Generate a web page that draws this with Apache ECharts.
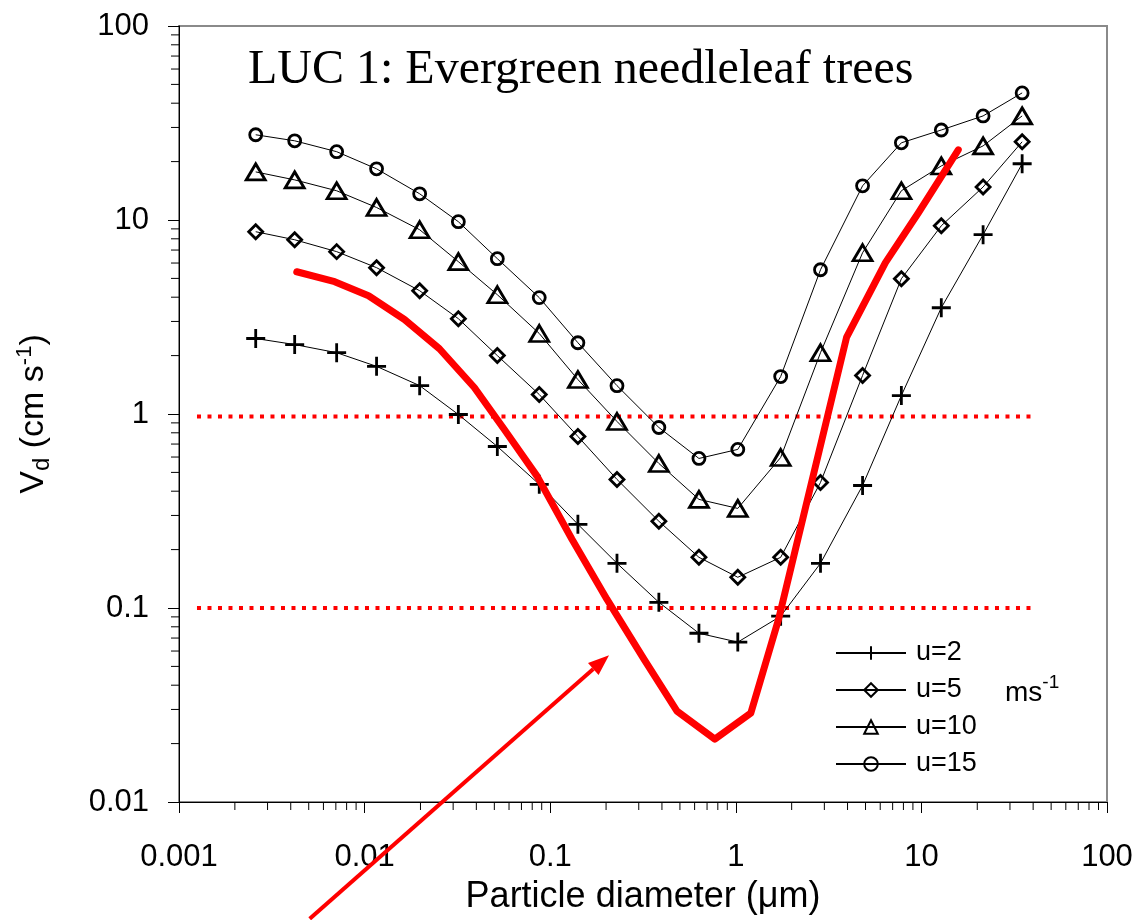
<!DOCTYPE html>
<html>
<head>
<meta charset="utf-8">
<script src="https://cdn.jsdelivr.net/npm/echarts@6/dist/echarts.min.js"></script>
<style>
  html, body { margin: 0; padding: 0; background: #fff; }
  #chart { width: 1142px; height: 920px; }
</style>
</head>
<body>
<div id="chart"></div>
<script>
// Particle diameters (µm) shared by the four wind-speed curves
const diameters = [0.00259, 0.0042, 0.00707, 0.0116, 0.0198, 0.032, 0.0519, 0.0873, 0.141, 0.229,
                   0.385, 0.633, 1.025, 1.745, 2.86, 4.82, 7.8, 12.8, 21.5, 34.9];

// Deposition velocity Vd (cm/s) for each friction wind speed
const vdU2  = [2.45, 2.28, 2.07, 1.76, 1.40, 0.994, 0.680, 0.434, 0.270, 0.170,
               0.107, 0.0741, 0.0667, 0.0907, 0.170, 0.428, 1.245, 3.53, 8.40, 19.5];
const vdU5  = [8.70, 7.91, 6.87, 5.68, 4.32, 3.10, 2.00, 1.26, 0.766, 0.460,
               0.280, 0.1825, 0.144, 0.1825, 0.444, 1.58, 4.98, 9.34, 14.8, 25.3];
const vdU10 = [17.7, 16.1, 14.15, 11.6, 8.91, 6.10, 4.12, 2.60, 1.505, 0.915,
               0.556, 0.363, 0.326, 0.597, 2.07, 6.78, 14.15, 19.0, 24.1, 34.4];
const vdU15 = [27.5, 25.6, 22.5, 18.35, 13.65, 9.80, 6.32, 3.98, 2.33, 1.40,
               0.852, 0.590, 0.657, 1.56, 5.54, 15.0, 25.0, 29.1, 34.4, 45.2];

// Thick red reference curve
const refDiam = [0.00431, 0.0069, 0.0105, 0.0164, 0.0253, 0.039, 0.0566, 0.0851, 0.131, 0.202,
                 0.320, 0.482, 0.771, 1.204, 1.70, 3.95, 6.40, 9.64, 15.8];
const refVd   = [5.41, 4.81, 4.07, 3.07, 2.17, 1.37, 0.832, 0.477, 0.226, 0.111,
                 0.0545, 0.0294, 0.0211, 0.0287, 0.0875, 2.48, 6.03, 10.9, 23.0];

// Dotted guide levels and their horizontal span
const guideLevels = [0.97, 0.1];
const guideSpan = [0.00125, 40];

// Arrow annotation: tail and head in data units
const arrowTail = [0.00506, 0.0025];
const arrowHead = [0.2075, 0.0571];

// Axis ranges and tick labels
const xMin = 0.001, xMax = 100;
const yMin = 0.01, yMax = 100;
const xTickLabels = ['0.001', '0.01', '0.1', '1', '10', '100'];
const yTickLabels = ['0.01', '0.1', '1', '10', '100'];

const seriesNames = ['u=2', 'u=5', 'u=10', 'u=15'];
const seriesValues = [vdU2, vdU5, vdU10, vdU15];

const SANS = "'Liberation Sans', Arial, sans-serif";
const SERIF = "'Liberation Serif', 'Times New Roman', serif";

const markerStyles = [
  { symbol: 'path://M0 5 L10 5 M5 0 L5 10', symbolSize: 19 },
  { symbol: 'diamond', symbolSize: 14 },
  { symbol: 'triangle', symbolSize: [19, 16] },
  { symbol: 'circle', symbolSize: 12 }
];

function minorValues(loExp, hiExp) {
  const out = [];
  for (let e = loExp; e < hiExp; e++) {
    for (let m = 2; m <= 9; m++) out.push(m * Math.pow(10, e));
  }
  return out;
}

const xMinor = minorValues(-3, 2);
const yMinor = minorValues(-2, 2);

const chart = echarts.init(document.getElementById('chart'), null, { renderer: 'canvas' });

const curveSeries = seriesNames.map((name, i) => ({
  name: name,
  type: 'line',
  data: diameters.map((d, j) => [d, seriesValues[i][j]]),
  symbol: markerStyles[i].symbol,
  symbolSize: markerStyles[i].symbolSize,
  showAllSymbol: true,
  lineStyle: { color: '#000', width: 1 },
  itemStyle: { color: 'transparent', borderColor: '#000', borderWidth: 2.8 },
  emphasis: { disabled: true },
  z: 3
}));

const guideSeries = guideLevels.map((lvl, i) => ({
  name: 'guide' + i,
  type: 'line',
  data: guideSpan.map(x => [x, lvl]),
  symbol: 'none',
  lineStyle: { color: '#ff0000', width: 4, type: [4, 6.5] },
  emphasis: { disabled: true },
  silent: true,
  z: 2
}));

const refSeries = {
  name: 'reference',
  type: 'line',
  data: refDiam.map((d, j) => [d, refVd[j]]),
  symbol: 'none',
  clip: false,
  lineStyle: { color: '#ff0000', width: 7, cap: 'round', join: 'round' },
  emphasis: { disabled: true },
  silent: true,
  z: 4
};

// Straight arrow with a filled head, placed in data coordinates
const arrowSeries = {
  name: 'arrow',
  type: 'custom',
  silent: true,
  clip: false,
  data: [[arrowTail[0], arrowTail[1], arrowHead[0], arrowHead[1]]],
  encode: { x: 0, y: 1 },
  renderItem: (params, api) => {
    const t = api.coord([api.value(0), api.value(1)]);
    const h = api.coord([api.value(2), api.value(3)]);
    const ang = Math.atan2(h[1] - t[1], h[0] - t[0]);
    const len = 21, half = 8;
    const bx = h[0] - len * Math.cos(ang), by = h[1] - len * Math.sin(ang);
    const nx = -Math.sin(ang), ny = Math.cos(ang);
    return {
      type: 'group',
      children: [
        { type: 'line', shape: { x1: t[0], y1: t[1], x2: bx, y2: by },
          style: { stroke: '#ff0000', lineWidth: 4 } },
        { type: 'polygon',
          shape: { points: [[h[0], h[1]], [bx + nx * half, by + ny * half], [bx - nx * half, by - ny * half]] },
          style: { fill: '#ff0000' } }
      ]
    };
  },
  z: 5
};

const xMinorTicks = {
  name: 'xMinor',
  type: 'custom',
  silent: true,
  data: xMinor.map(v => [v, yMin]),
  renderItem: (params, api) => {
    const p = api.coord([api.value(0), api.value(1)]);
    return { type: 'line', shape: { x1: p[0], y1: p[1], x2: p[0], y2: p[1] + 8 },
             style: { stroke: '#000', lineWidth: 1 } };
  },
  z: 1
};

const yMinorTicks = {
  name: 'yMinor',
  type: 'custom',
  silent: true,
  data: yMinor.map(v => [xMin, v]),
  renderItem: (params, api) => {
    const p = api.coord([api.value(0), api.value(1)]);
    return { type: 'line', shape: { x1: p[0] - 8, y1: p[1], x2: p[0], y2: p[1] },
             style: { stroke: '#000', lineWidth: 1 } };
  },
  z: 1
};

const option = {
  animation: false,
  backgroundColor: '#fff',
  title: {
    text: 'LUC 1: Evergreen needleleaf trees',
    left: 248,
    top: 46,
    padding: 0,
    textStyle: { fontFamily: SERIF, fontSize: 48, fontWeight: 'normal', color: '#000' }
  },
  grid: {
    left: 179, top: 26, right: 35, bottom: 117,
    show: true, borderColor: '#8a8a8a', borderWidth: 2, backgroundColor: 'transparent'
  },
  legend: {
    data: seriesNames,
    orient: 'vertical',
    left: 835,
    top: 638,
    padding: 0,
    itemWidth: 70,
    itemHeight: 17,
    itemGap: 7,
    selectedMode: false,
    textStyle: { fontFamily: SANS, fontSize: 27, color: '#000', lineHeight: 30, padding: [0, 0, 0, 5] }
  },
  xAxis: {
    type: 'log',
    logBase: 10,
    min: xMin,
    max: xMax,
    splitNumber: 5,
    name: 'Particle diameter (μm)',
    nameLocation: 'middle',
    nameGap: 77,
    nameTextStyle: { fontFamily: SANS, fontSize: 36, color: '#000' },
    axisLine: { lineStyle: { color: '#000', width: 1 } },
    axisTick: { inside: false, length: 11, lineStyle: { color: '#000', width: 1 } },
    axisLabel: {
      margin: 40,
      fontFamily: SANS, fontSize: 31, color: '#000',
      formatter: v => xTickLabels[Math.round(Math.log10(v)) + 3]
    },
    splitLine: { show: false },
    minorTick: { show: false }
  },
  yAxis: {
    type: 'log',
    logBase: 10,
    min: yMin,
    max: yMax,
    splitNumber: 4,
    name: '{a|V}{b|d}{a| (cm s}{c|-1}{a|)}',
    nameLocation: 'middle',
    nameRotate: 90,
    nameGap: 125,
    nameTextStyle: {
      fontFamily: SANS, color: '#000',
      rich: {
        a: { fontFamily: SANS, fontSize: 34, lineHeight: 40, color: '#000' },
        b: { fontFamily: SANS, fontSize: 24, lineHeight: 24, verticalAlign: 'bottom', color: '#000' },
        c: { fontFamily: SANS, fontSize: 22, lineHeight: 22, verticalAlign: 'top', color: '#000' }
      }
    },
    axisLine: { lineStyle: { color: '#000', width: 1 } },
    axisTick: { inside: false, length: 11, lineStyle: { color: '#000', width: 1 } },
    axisLabel: {
      margin: 30,
      fontFamily: SANS, fontSize: 31, color: '#000',
      formatter: v => yTickLabels[Math.round(Math.log10(v)) + 2]
    },
    splitLine: { show: false },
    minorTick: { show: false }
  },
  graphic: [
    {
      type: 'text',
      left: 1005,
      top: 673,
      style: {
        text: '{m|ms}{s|-1}',
        rich: {
          m: { fontFamily: SANS, fontSize: 28, lineHeight: 34, verticalAlign: 'bottom', fill: '#000' },
          s: { fontFamily: SANS, fontSize: 19, lineHeight: 20, verticalAlign: 'top', fill: '#000' }
        }
      }
    }
  ],
  series: [xMinorTicks, yMinorTicks, ...guideSeries, refSeries, arrowSeries, ...curveSeries]
};

chart.setOption(option);
</script>
</body>
</html>
